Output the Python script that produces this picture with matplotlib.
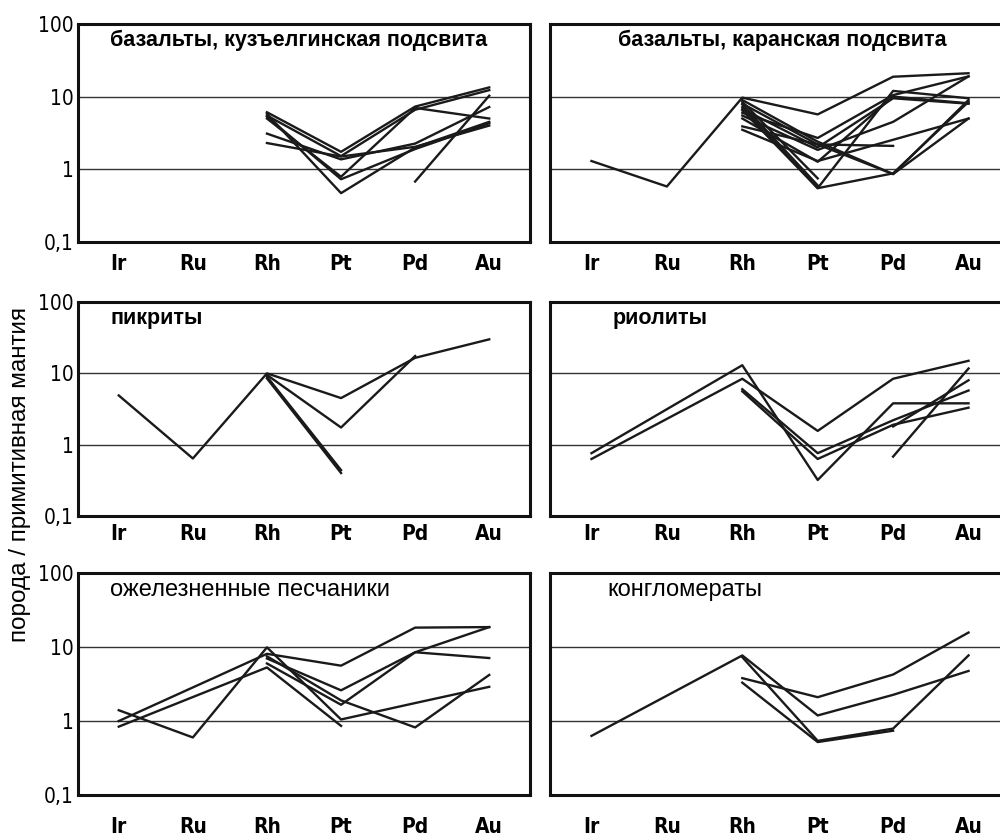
import numpy as np
import matplotlib.pyplot as plt
from matplotlib.ticker import FixedLocator, NullLocator

nan = np.nan
elements = ["Ir", "Ru", "Rh", "Pt", "Pd", "Au"]
ytick_vals = [0.1, 1, 10, 100]
ytick_labels = ["0,1", "1", "10", "100"]

# породы, нормированные на примитивную мантию (Ir, Ru, Rh, Pt, Pd, Au)
kuzelga = [
    [nan, nan, 6.1, 1.74, 7.3, 13.4],
    [nan, nan, 5.5, 1.52, 6.6, 12.3],
    [nan, nan, 5.0, 0.79, 7.0, 5.0],
    [nan, nan, 5.8, 0.47, 2.0, 4.5],
    [nan, nan, 3.1, 1.37, 2.26, 7.2],
    [nan, nan, 2.3, 1.5, 2.04, 4.0],
    [nan, nan, 5.3, 0.73, 1.9, 4.3],
    [nan, nan, nan, nan, 0.68, 10.3],
]
karan = [
    [1.3, 0.58, 9.7, 5.7, 18.8, 21],
    [nan, nan, 9.0, 2.4, 0.86, 9.0],
    [nan, nan, 8.0, 2.2, 0.86, 5.0],
    [nan, nan, 7.2, 0.55, 12, 9.5],
    [nan, nan, 6.5, 0.55, 0.88, 8.5],
    [nan, nan, 6.0, 2.7, 10.5, 19],
    [nan, nan, 5.5, 1.85, 4.5, 19],
    [nan, nan, 5.0, 1.27, 10, 8.1],
    [nan, nan, 3.9, 2.2, 2.1, nan],
    [nan, nan, 3.5, 1.3, nan, 5.0],
    [nan, nan, 7.8, 0.6, nan, nan],
    [nan, nan, 8.5, 0.75, nan, nan],
    [nan, nan, 6.8, 2.0, 9.5, 8.0],
]
pikrity = [
    [4.9, 0.64, 10, 4.5, 16.5, 30],
    [nan, nan, 9.5, 1.74, 17.5, nan],
    [nan, nan, 9.0, 0.44, nan, nan],
    [nan, nan, 8.5, 0.40, nan, nan],
]
riolity = [
    [0.76, nan, 13, 0.32, 3.8, 3.8],
    [0.63, nan, 8.4, 1.56, 8.4, 15],
    [nan, nan, 6.0, 0.76, 2.2, 5.75],
    [nan, nan, 5.6, 0.63, 1.9, 3.3],
    [nan, nan, nan, nan, 0.68, 11.7],
    [nan, nan, nan, nan, 1.8, 8.0],
]
peschaniki = [
    [1.4, 0.6, 9.9, 1.05, 1.75, 2.9],
    [1.0, nan, 8.1, 5.6, 18.3, 18.6],
    [0.84, nan, 5.3, 0.86, nan, nan],
    [nan, nan, 7.0, 2.6, 8.5, 18.6],
    [nan, nan, 6.0, 1.66, 8.5, 7.1],
    [nan, nan, 7.5, 1.9, 0.82, 4.2],
]
konglomeraty = [
    [0.63, nan, 7.7, 1.19, 2.26, 4.75],
    [nan, nan, 3.8, 2.1, 4.25, 15.7],
    [nan, nan, 7.3, 0.54, 0.79, 7.7],
    [nan, nan, 3.3, 0.52, 0.74, nan],
]

# title, data, weight, size, x position in axes
panels = [
    ("базальты, кузъелгинская подсвита", kuzelga, "bold", 15.5, 0.071),
    ("базальты, каранская подсвита", karan, "bold", 15.5, 0.148),
    ("пикриты", pikrity, "bold", 15.5, 0.071),
    ("риолиты", riolity, "bold", 15.5, 0.137),
    ("ожелезненные песчаники", peschaniki, "normal", 17, 0.071),
    ("конгломераты", konglomeraty, "normal", 17, 0.124),
]

plt.rcParams['font.family'] = ['Liberation Sans', 'DejaVu Sans']
tickfont = dict(family=['DejaVu Sans', 'Liberation Sans'], stretch='condensed')

fig = plt.figure(figsize=(10, 8.39), dpi=100)

rows = [(0.7116, 0.2598, 9), (0.385, 0.255, 6), (0.0524, 0.2646, 16)]
cols = [(0.078, 0.452), (0.55, 0.46)]

x = np.arange(len(elements))
for i, (title, data, weight, tsize, tx) in enumerate(panels):
    bottom, height, pad = rows[i // 2]
    left, width = cols[i % 2]
    ax = fig.add_axes([left, bottom, width, height])
    ax.set_yscale('log')
    ax.set_ylim(0.1, 100)
    ax.set_xlim(-0.55, 5.55)
    for v in [1, 10]:
        ax.axhline(v, color='#333333', lw=1.0, zorder=1)
    for row in data:
        y = np.array(row, dtype=float)
        m = ~np.isnan(y)
        ax.plot(x[m], y[m], color='#1a1a1a', lw=1.7, zorder=2)
    for s in ax.spines.values():
        s.set_linewidth(2.2)
        s.set_color('#111111')
    ax.set_xticks(x)
    ax.set_xticklabels(elements, fontsize=15, fontweight='bold', **tickfont)
    ax.tick_params(axis='x', length=0, pad=pad)
    ax.yaxis.set_major_locator(FixedLocator(ytick_vals))
    ax.yaxis.set_minor_locator(NullLocator())
    if i % 2 == 0:
        ax.set_yticklabels(ytick_labels, fontsize=15, **tickfont)
        ax.tick_params(axis='y', length=0, pad=3)
    else:
        ax.set_yticklabels([])
        ax.tick_params(axis='y', length=0)
    ax.text(tx, 0.925, title, transform=ax.transAxes, fontsize=tsize,
            fontweight=weight, va='center', ha='left')

fig.text(0.02, 1 - 474 / 839, "порода / примитивная мантия", rotation=90,
         fontsize=17.5, va='center', ha='center')

fig.savefig("out.png", dpi=100)
